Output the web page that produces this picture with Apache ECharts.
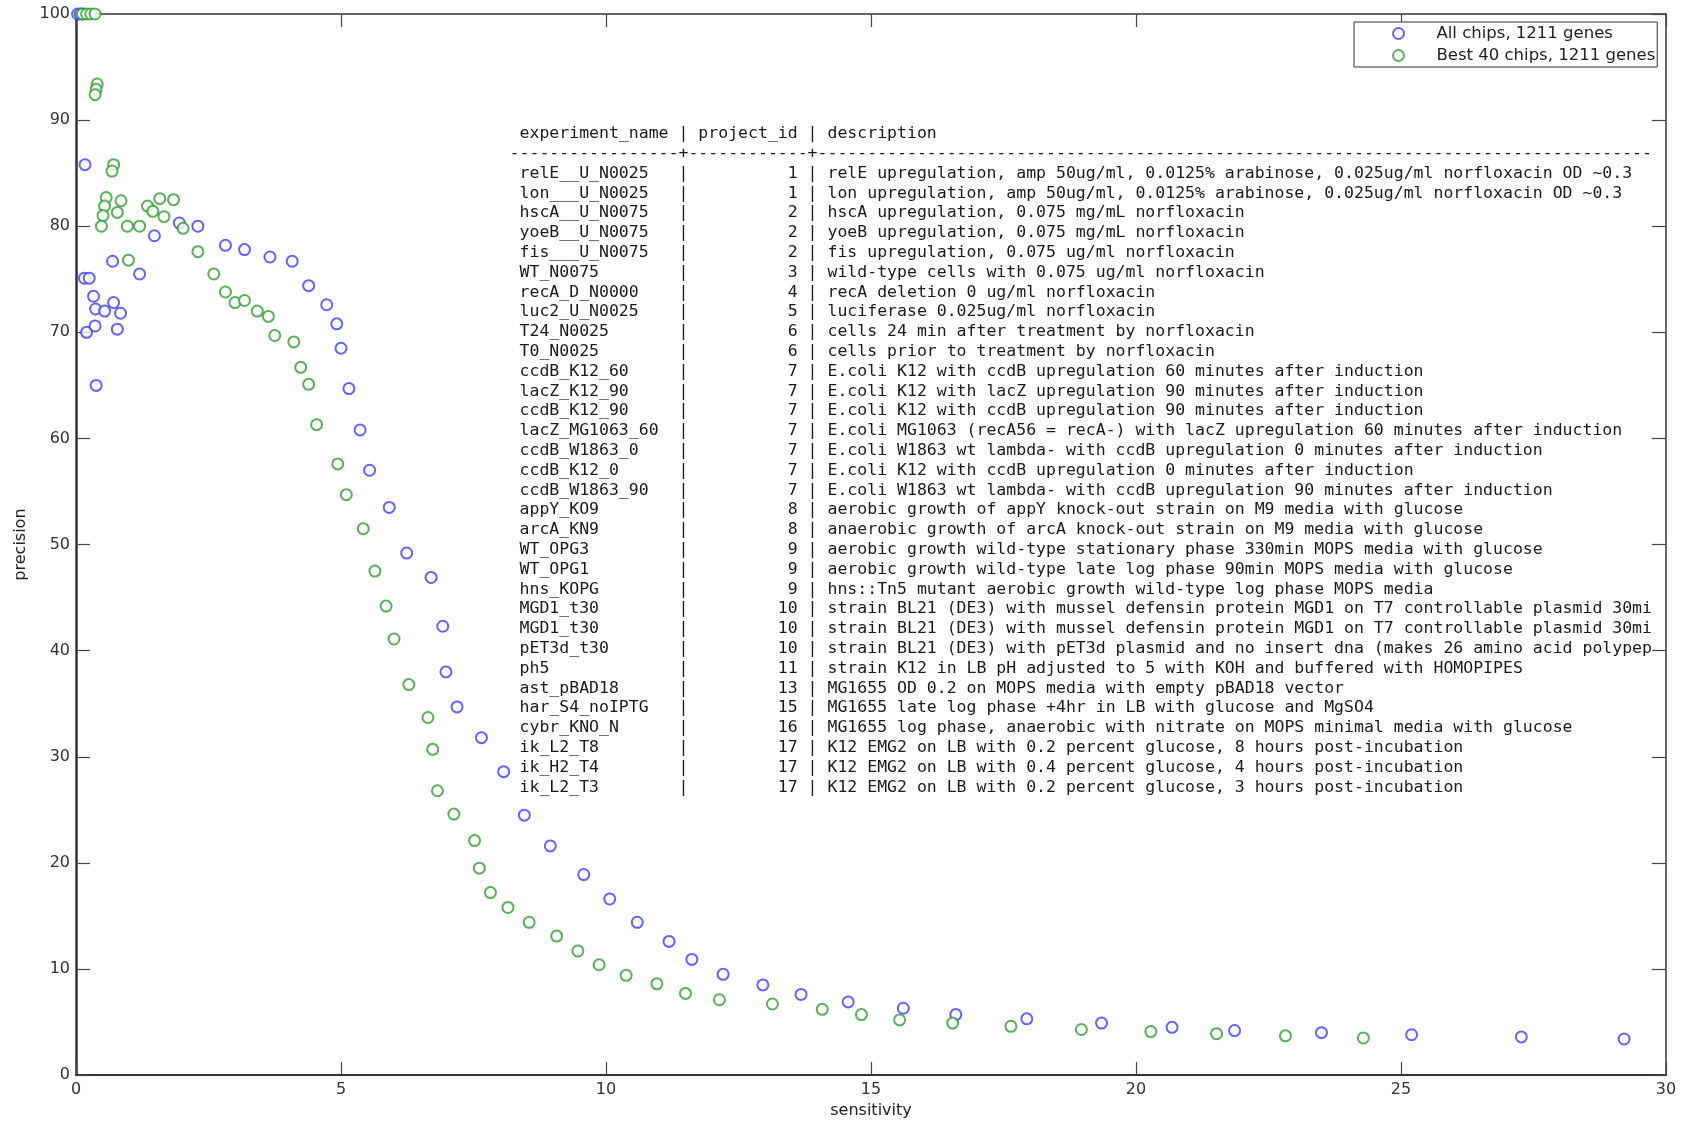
<!DOCTYPE html>
<html>
<head>
<meta charset="utf-8">
<script src="https://cdn.jsdelivr.net/npm/echarts@6/dist/echarts.min.js"></script>
<style>
html,body{margin:0;padding:0;background:#fff;}
#chart{width:1691px;height:1124px;}
</style>
</head>
<body>
<div id="chart"></div>
<script>
// ---- series data (sensitivity, precision) ----
const allChipsSens = [0.03,0.08,0.13,0.17,0.16,0.25,0.20,0.33,0.37,0.36,0.38,0.54,0.71,0.69,0.78,0.84,1.20,1.48,1.95,2.30,2.82,3.18,3.66,4.08,4.39,4.73,4.92,5.00,5.15,5.36,5.54,5.91,6.24,6.70,6.92,6.98,7.19,7.65,8.07,8.46,8.95,9.58,10.07,10.59,11.19,11.62,12.21,12.96,13.68,14.57,15.61,16.60,17.94,19.35,20.68,21.86,23.50,25.20,27.27,29.21];
const allChipsPrec = [100,100,100,85.8,75.1,75.1,70.0,73.4,72.2,70.6,65.0,72.0,72.8,76.7,70.3,71.8,75.5,79.1,80.3,80.0,78.2,77.8,77.1,76.7,74.4,72.6,70.8,68.5,64.7,60.8,57.0,53.5,49.2,46.9,42.3,38.0,34.7,31.8,28.6,24.5,21.6,18.9,16.6,14.4,12.6,10.9,9.5,8.5,7.6,6.9,6.3,5.7,5.3,4.9,4.5,4.2,4.0,3.8,3.6,3.4];

const best40Sens = [0.12,0.20,0.28,0.36,0.40,0.38,0.36,0.71,0.68,0.57,0.54,0.51,0.48,0.85,0.78,0.97,1.20,0.99,1.35,1.45,1.58,1.66,1.84,2.02,2.30,2.60,2.82,3.00,3.18,3.42,3.63,3.75,4.11,4.24,4.39,4.54,4.94,5.10,5.42,5.64,5.85,6.00,6.28,6.64,6.73,6.82,7.13,7.52,7.61,7.82,8.15,8.55,9.07,9.47,9.87,10.38,10.96,11.50,12.14,13.14,14.08,14.82,15.54,16.54,17.64,18.97,20.28,21.52,22.82,24.29];
const best40Prec = [100,100,100,100,93.4,92.9,92.4,85.8,85.2,82.7,81.9,81.0,80.0,82.4,81.3,80.0,80.0,76.8,81.9,81.4,82.6,80.9,82.5,79.8,77.6,75.5,73.8,72.8,73.0,72.0,71.5,69.7,69.1,66.7,65.1,61.3,57.6,54.7,51.5,47.5,44.2,41.1,36.8,33.7,30.7,26.8,24.6,22.1,19.5,17.2,15.8,14.4,13.1,11.7,10.4,9.4,8.6,7.7,7.1,6.7,6.2,5.7,5.2,4.9,4.6,4.3,4.1,3.9,3.7,3.5];

const seriesNames = ['All chips, 1211 genes', 'Best 40 chips, 1211 genes'];
const axisNames = { x: 'sensitivity', y: 'precision' };

// ---- embedded table text ----
const tableHeader = ['experiment_name', 'project_id', 'description'];
const tableNames = ["relE__U_N0025","lon___U_N0025","hscA__U_N0075","yoeB__U_N0075","fis___U_N0075","WT_N0075","recA_D_N0000","luc2_U_N0025","T24_N0025","T0_N0025","ccdB_K12_60","lacZ_K12_90","ccdB_K12_90","lacZ_MG1063_60","ccdB_W1863_0","ccdB_K12_0","ccdB_W1863_90","appY_KO9","arcA_KN9","WT_OPG3","WT_OPG1","hns_KOPG","MGD1_t30","MGD1_t30","pET3d_t30","ph5","ast_pBAD18","har_S4_noIPTG","cybr_KNO_N","ik_L2_T8","ik_H2_T4","ik_L2_T3"];
const tableIds = [1,1,2,2,2,3,4,5,6,6,7,7,7,7,7,7,7,8,8,9,9,9,10,10,10,11,13,15,16,17,17,17];
const tableDescs = [
"relE upregulation, amp 50ug/ml, 0.0125% arabinose, 0.025ug/ml norfloxacin OD ~0.3",
"lon upregulation, amp 50ug/ml, 0.0125% arabinose, 0.025ug/ml norfloxacin OD ~0.3",
"hscA upregulation, 0.075 mg/mL norfloxacin",
"yoeB upregulation, 0.075 mg/mL norfloxacin",
"fis upregulation, 0.075 ug/ml norfloxacin",
"wild-type cells with 0.075 ug/ml norfloxacin",
"recA deletion 0 ug/ml norfloxacin",
"luciferase 0.025ug/ml norfloxacin",
"cells 24 min after treatment by norfloxacin",
"cells prior to treatment by norfloxacin",
"E.coli K12 with ccdB upregulation 60 minutes after induction",
"E.coli K12 with lacZ upregulation 90 minutes after induction",
"E.coli K12 with ccdB upregulation 90 minutes after induction",
"E.coli MG1063 (recA56 = recA-) with lacZ upregulation 60 minutes after induction",
"E.coli W1863 wt lambda- with ccdB upregulation 0 minutes after induction",
"E.coli K12 with ccdB upregulation 0 minutes after induction",
"E.coli W1863 wt lambda- with ccdB upregulation 90 minutes after induction",
"aerobic growth of appY knock-out strain on M9 media with glucose",
"anaerobic growth of arcA knock-out strain on M9 media with glucose",
"aerobic growth wild-type stationary phase 330min MOPS media with glucose",
"aerobic growth wild-type late log phase 90min MOPS media with glucose",
"hns::Tn5 mutant aerobic growth wild-type log phase MOPS media",
"strain BL21 (DE3) with mussel defensin protein MGD1 on T7 controllable plasmid 30mi",
"strain BL21 (DE3) with mussel defensin protein MGD1 on T7 controllable plasmid 30mi",
"strain BL21 (DE3) with pET3d plasmid and no insert dna (makes 26 amino acid polypep",
"strain K12 in LB pH adjusted to 5 with KOH and buffered with HOMOPIPES",
"MG1655 OD 0.2 on MOPS media with empty pBAD18 vector",
"MG1655 late log phase +4hr in LB with glucose and MgSO4",
"MG1655 log phase, anaerobic with nitrate on MOPS minimal media with glucose",
"K12 EMG2 on LB with 0.2 percent glucose, 8 hours post-incubation",
"K12 EMG2 on LB with 0.4 percent glucose, 4 hours post-incubation",
"K12 EMG2 on LB with 0.2 percent glucose, 3 hours post-incubation"
];

// ---- build ----
const pairs = (xs, ys) => xs.map((x, i) => [x, ys[i]]);
const lines = [];
lines.push(' ' + tableHeader[0] + ' | ' + tableHeader[1] + ' | ' + tableHeader[2]);
lines.push('-'.repeat(17) + '+' + '-'.repeat(12) + '+' + '-'.repeat(84));
tableNames.forEach((n, i) => {
  lines.push(' ' + n.padEnd(15) + ' | ' + String(tableIds[i]).padStart(10) + ' | ' + tableDescs[i]);
});

const FONT = '"DejaVu Sans", sans-serif';
const AX = '#333';
const chart = echarts.init(document.getElementById('chart'), null, { renderer: 'canvas' });

const xBase = { type: 'value', min: 0, max: 30, interval: 5, gridIndex: 0, splitLine: { show: false } };
const yBase = { type: 'value', min: 0, max: 100, interval: 10, gridIndex: 0, splitLine: { show: false } };

chart.setOption({
  animation: false,
  backgroundColor: '#fff',
  grid: { left: 76, top: 14, width: 1590, height: 1065, containLabel: false },
  xAxis: [
    Object.assign({}, xBase, {
      position: 'bottom',
      name: axisNames.x, nameLocation: 'middle', nameGap: 23,
      nameTextStyle: { fontFamily: FONT, fontSize: 16, color: '#222' },
      axisLine: { show: true, lineStyle: { color: AX, width: 2 } },
      axisTick: { show: true, inside: true, length: 13, lineStyle: { color: '#444', width: 1.2 } },
      axisLabel: { show: true, margin: 7, fontFamily: FONT, fontSize: 16, color: '#333' }
    }),
    Object.assign({}, xBase, {
      position: 'top',
      axisLine: { show: true, onZero: false, lineStyle: { color: AX, width: 1.5 } },
      axisTick: { show: true, inside: true, length: 13, lineStyle: { color: '#444', width: 1.2 } },
      axisLabel: { show: false }
    })
  ],
  yAxis: [
    Object.assign({}, yBase, {
      position: 'left',
      name: axisNames.y, nameLocation: 'middle', nameGap: 47, nameRotate: 90,
      nameTextStyle: { fontFamily: FONT, fontSize: 16, color: '#222' },
      axisLine: { show: true, onZero: false, lineStyle: { color: AX, width: 2.5 } },
      axisTick: { show: true, inside: true, length: 14, lineStyle: { color: '#444', width: 1.2 } },
      axisLabel: { show: true, margin: 6, fontFamily: FONT, fontSize: 16, color: '#333' }
    }),
    Object.assign({}, yBase, {
      position: 'right',
      axisLine: { show: true, onZero: false, lineStyle: { color: AX, width: 1.5 } },
      axisTick: { show: true, inside: true, length: 14, lineStyle: { color: '#444', width: 1.2 } },
      axisLabel: { show: false }
    })
  ],
  legend: {
    orient: 'vertical',
    left: 1354, top: 22,
    padding: [3, 2, 3, 38],
    itemGap: 5,
    itemWidth: 66, itemHeight: 11,
    borderColor: '#333', borderWidth: 1,
    backgroundColor: '#fff',
    textStyle: { fontFamily: FONT, fontSize: 16.5, color: '#222', lineHeight: 16 },
    data: [
      { name: seriesNames[0], icon: 'emptyCircle' },
      { name: seriesNames[1], icon: 'emptyCircle' }
    ],
    z: 50
  },
  series: [
    {
      name: seriesNames[0], type: 'scatter', xAxisIndex: 0, yAxisIndex: 0,
      symbol: 'emptyCircle', symbolSize: 11,
      itemStyle: { color: '#3c3cff', borderColor: '#3c3cff', borderWidth: 1.3 },
      data: pairs(allChipsSens, allChipsPrec)
    },
    {
      name: seriesNames[1], type: 'scatter', xAxisIndex: 0, yAxisIndex: 0,
      symbol: 'emptyCircle', symbolSize: 11,
      itemStyle: { color: '#2e9e2e', borderColor: '#2e9e2e', borderWidth: 1.3 },
      data: pairs(best40Sens, best40Prec)
    }
  ],
  graphic: [
    {
      type: 'group', z: 40,
      children: [
        { type: 'rect', shape: { x: 513, y: 117, width: 1138, height: 688 },
          style: { fill: '#fff', stroke: null } },
        { type: 'text', x: 509.6, y: 124,
          style: {
            text: lines.join('\n'),
            font: '16.5px "DejaVu Sans Mono", monospace',
            lineHeight: 19.8,
            fill: '#1a1a1a',
            textVerticalAlign: 'top'
          } }
      ]
    }
  ]
});
</script>
</body>
</html>
